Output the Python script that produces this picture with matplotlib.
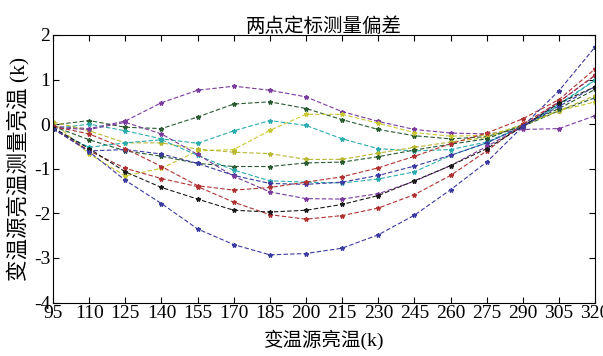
import matplotlib
matplotlib.use("Agg")
import matplotlib.pyplot as plt

plt.rcParams['font.family'] = ['Liberation Serif', 'Noto Sans CJK SC']
plt.rcParams['axes.unicode_minus'] = False

x = [95, 110, 125, 140, 155, 170, 185, 200, 215, 230, 245, 260, 275, 290, 305, 320]

purple_top = [-0.05, -0.10, 0.07, 0.48, 0.76, 0.85, 0.76, 0.61, 0.28, 0.06, -0.12, -0.20, -0.22, -0.12, -0.10, 0.19]
green_top = [-0.02, 0.08, -0.07, -0.10, 0.16, 0.45, 0.50, 0.35, 0.10, -0.12, -0.26, -0.33, -0.28, -0.05, 0.30, 0.59]
yellow_cross = [0.05, -0.67, -1.16, -0.99, -0.60, -0.57, -0.14, 0.22, 0.22, 0.02, -0.19, -0.27, -0.25, -0.03, 0.30, 0.50]
cyan_top = [-0.10, 0.00, -0.15, -0.33, -0.43, -0.15, 0.08, -0.03, -0.33, -0.55, -0.60, -0.57, -0.40, -0.05, 0.45, 0.99]
yellow_flat = [0.05, -0.15, -0.42, -0.42, -0.56, -0.63, -0.66, -0.79, -0.79, -0.65, -0.52, -0.40, -0.30, 0.00, 0.30, 0.64]
green_mid = [-0.05, -0.35, -0.60, -0.72, -0.88, -0.95, -0.95, -0.87, -0.85, -0.73, -0.58, -0.45, -0.33, -0.02, 0.35, 0.78]
cyan_mid = [-0.12, -0.52, -0.42, -0.35, -0.70, -1.03, -1.27, -1.30, -1.32, -1.23, -1.07, -0.70, -0.42, -0.05, 0.42, 0.99]
blue_mid = [-0.10, -0.60, -0.57, -0.67, -0.88, -1.15, -1.33, -1.35, -1.30, -1.15, -0.94, -0.70, -0.42, -0.05, 0.40, 0.84]
purple_mid = [-0.08, -0.12, 0.04, -0.22, -0.68, -1.17, -1.52, -1.67, -1.68, -1.56, -1.28, -0.93, -0.50, -0.05, 0.50, 1.09]
red_mid = [-0.05, -0.22, -0.55, -0.95, -1.38, -1.48, -1.42, -1.30, -1.18, -0.98, -0.72, -0.44, -0.20, 0.12, 0.55, 1.24]
red_low = [-0.10, -0.60, -0.99, -1.22, -1.40, -1.75, -2.03, -2.13, -2.05, -1.88, -1.58, -1.15, -0.60, 0.00, 0.50, 1.10]
black_low = [-0.08, -0.55, -1.07, -1.42, -1.68, -1.93, -1.97, -1.93, -1.80, -1.60, -1.27, -0.93, -0.55, -0.05, 0.47, 0.84]
blue_low = [-0.10, -0.62, -1.26, -1.78, -2.35, -2.70, -2.93, -2.90, -2.78, -2.48, -2.04, -1.47, -0.85, -0.05, 0.75, 1.73]

series = [
    (purple_top, '#7a3a9e'),
    (green_top, '#2a5a32'),
    (yellow_cross, '#c8c832'),
    (cyan_top, '#2aacac'),
    (yellow_flat, '#b8b832'),
    (green_mid, '#2a5a32'),
    (cyan_mid, '#2aacac'),
    (blue_mid, '#3a3aa0'),
    (purple_mid, '#7a3a9e'),
    (red_mid, '#b03232'),
    (red_low, '#b03232'),
    (black_low, '#1a1a1a'),
    (blue_low, '#3a3aa0'),
]

xticks = [95, 110, 125, 140, 155, 170, 185, 200, 215, 230, 245, 260, 275, 290, 305, 320]
yticks = [-4, -3, -2, -1, 0, 1, 2]

fig = plt.figure(figsize=(6.03, 3.56), dpi=100)
ax = fig.add_axes([0.088, 0.150, 0.899, 0.752])
for vals, col in series:
    ax.plot(x, vals, linestyle='--', color=col, linewidth=0.8,
            marker='*', markersize=3.2, dashes=(4, 2))

ax.set_xlim(95, 320)
ax.set_ylim(-4, 2)
ax.set_xticks(xticks)
ax.set_yticks(yticks)
ax.tick_params(direction='in', top=True, right=True, labelsize=14, pad=2, length=4)
for s in ax.spines.values():
    s.set_linewidth(0.8)
ax.set_title('两点定标测量偏差', fontsize=14, pad=2)
ax.set_xlabel('变温源亮温(k)', fontsize=14, labelpad=5)
ax.set_ylabel('变温源亮温测量亮温 (k)', fontsize=15.5, labelpad=3)
fig.savefig('out.png', dpi=100)
